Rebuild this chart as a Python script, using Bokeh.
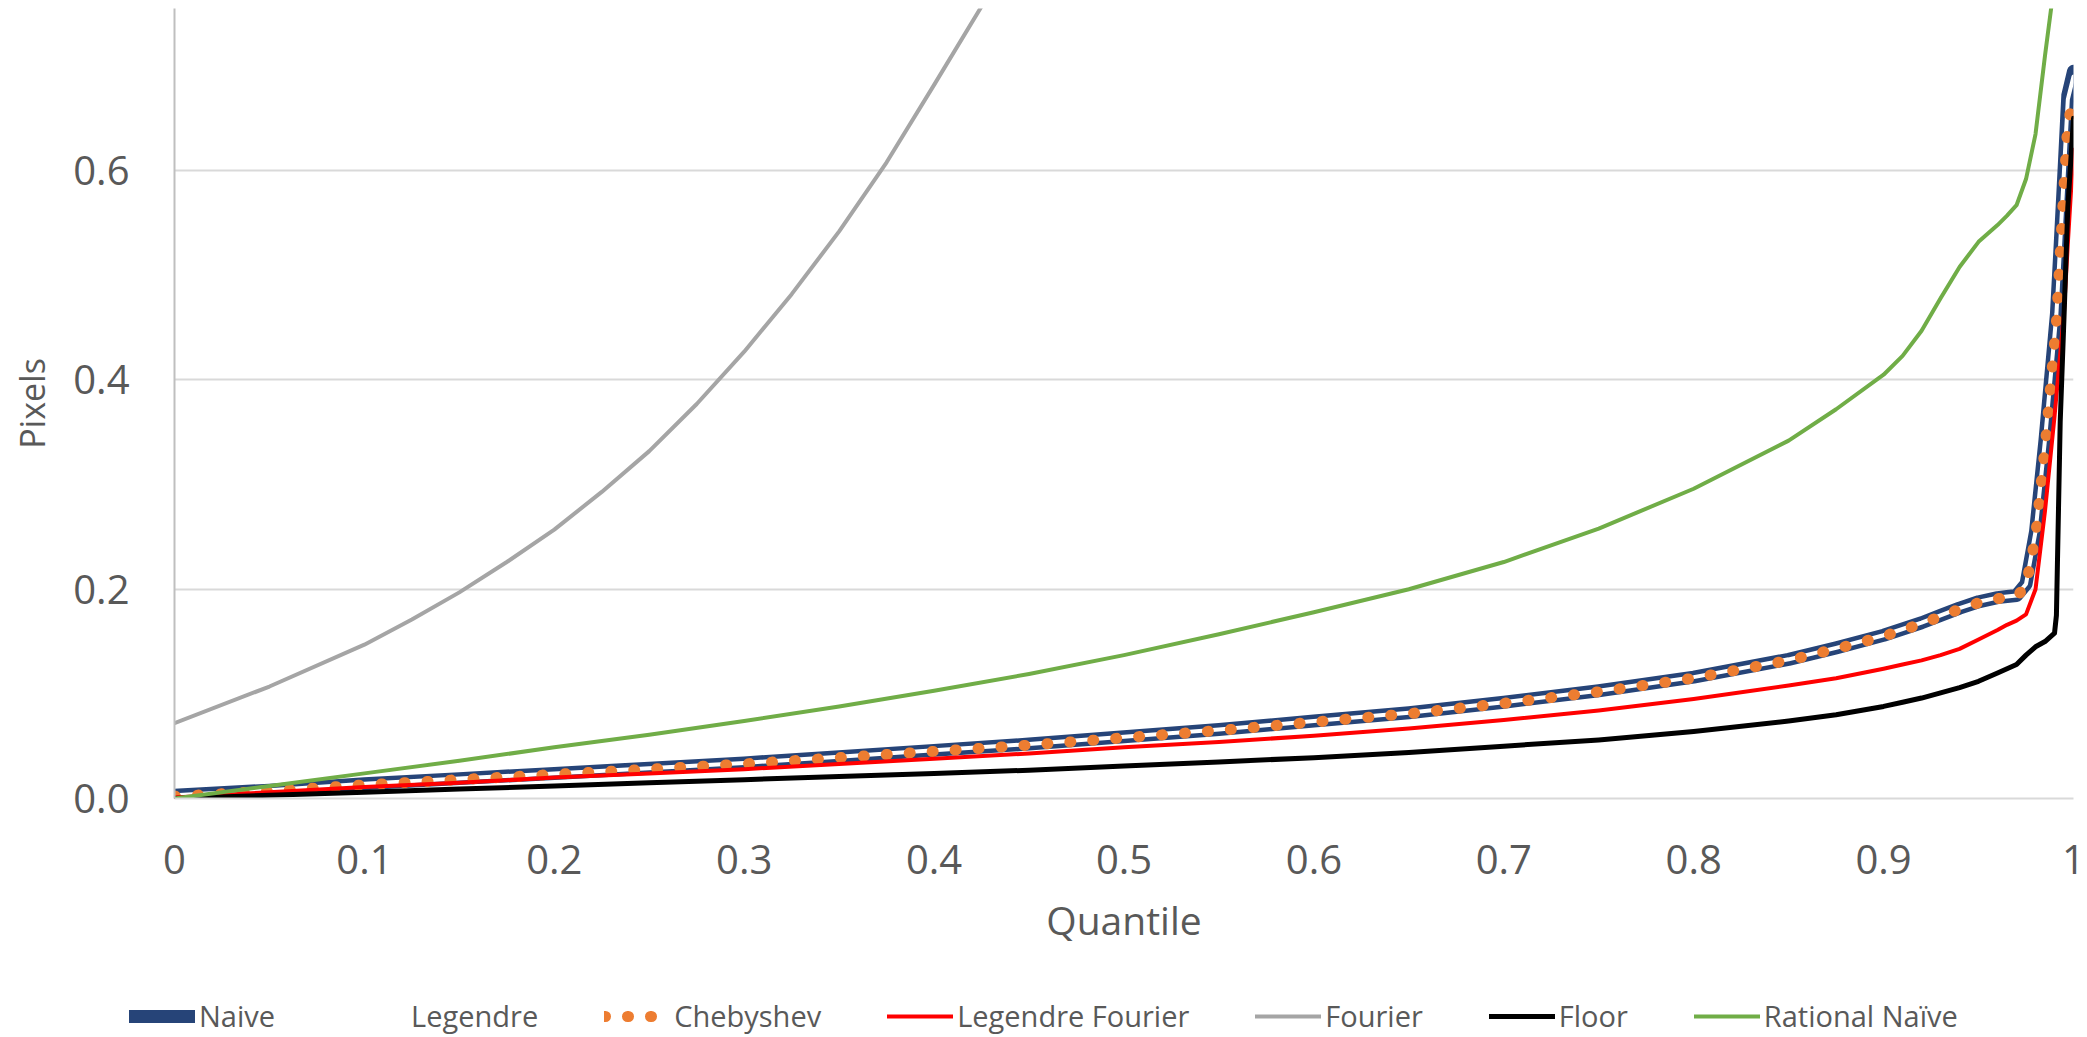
from bokeh.plotting import figure
from bokeh.models import Range1d, FixedTicker, Legend, LegendItem
from bokeh.layouts import column
from bokeh.embed import file_html
from bokeh.resources import INLINE

# ---- data ----
quantile = [0, .05, .1, .15, .2, .25, .3, .35, .4, .45, .5, .55, .6, .65, .7, .75, .8, .85,
            .875, .9, .91, .92, .93, .94, .95, .96, .965, .97, .975, .98, .985, .99, .991,
            .993, .995, .997, 1.0]

naive = [.003, .008, .014, .019, .024, .029, .034, .040, .046, .052, .059, .066, .074, .082,
         .092, .103, .116, .133, .144, .156, .162, .168, .175, .182, .188, .192, .193, .194,
         .205, .255, .343, .443, .463, .530, .600, .672, .695]

legendre = [.003, .008, .014, .019, .024, .029, .034, .040, .046, .052, .059, .066, .074, .082,
            .092, .103, .116, .133, .144, .156, .162, .168, .175, .182, .188, .192, .193, .194,
            .205, .255, .343, .443, .463, .530, .600, .668, .690]

chebyshev = [.002, .007, .013, .018, .023, .028, .033, .039, .045, .051, .058, .065, .073, .081,
             .091, .102, .115, .132, .143, .155, .161, .167, .174, .181, .187, .191, .192, .193,
             .203, .250, .335, .435, .455, .520, .585, .645, .668]

legendre_fourier = [.001, .006, .011, .015, .020, .024, .028, .033, .038, .043, .049, .054, .060,
                    .067, .075, .084, .095, .108, .115, .124, .128, .132, .137, .143, .152, .161,
                    .166, .170, .176, .200, .275, .365, .385, .425, .465, .530, .620]

floor_vals = [0, .003, .006, .009, .012, .015, .018, .021, .024, .027, .031, .035, .039, .044,
              .050, .056, .064, .074, .080, .088, .092, .096, .101, .106, .112, .120, .124, .128,
              .137, .145, .150, .158, .175, .360, .460, .565, .650]

rational_naive = [0, .012, .024, .036, .049, .061, .074, .088, .103, .119, .137, .157, .178, .200,
                  .226, .258, .296, .342, .372, .405, .423, .447, .478, .508, .532, .548, .557,
                  .567, .592, .635, .710, .780, .795, .830, .870, .910, .960]

fourier_q = [0, .05, .1, .125, .15, .175, .2, .225, .25, .275, .3, .325, .35, .375, .4, .425, .45]
fourier = [.072, .107, .147, .171, .197, .226, .257, .293, .332, .377, .427, .482, .542, .608,
           .682, .757, .840]

x_ticks = [0, .1, .2, .3, .4, .5, .6, .7, .8, .9, 1]
x_tick_labels = ["0", "0.1", "0.2", "0.3", "0.4", "0.5", "0.6", "0.7", "0.8", "0.9", "1"]
y_ticks = [0, .2, .4, .6]
y_tick_labels = ["0.0", "0.2", "0.4", "0.6"]

series_names = ["Naive", "Legendre", "Chebyshev", "Legendre Fourier", "Fourier", "Floor",
                "Rational Naïve"]

TEXT = "#595959"
FONT = "Open Sans"

styles = [
    dict(line_color="#264478", line_width=13),
    dict(line_color="white", line_width=4),
    dict(line_color="#ED7D31", line_width=11, line_dash="1 22"),
    dict(line_color="#FF0000", line_width=4),
    dict(line_color="#A5A5A5", line_width=4),
    dict(line_color="#000000", line_width=5),
    dict(line_color="#70AD47", line_width=4),
]

all_x = [quantile, quantile, quantile, quantile, fourier_q, quantile, quantile]
all_y = [naive, legendre, chebyshev, legendre_fourier, fourier, floor_vals, rational_naive]

p = figure(width=2087, height=981, output_backend="svg", toolbar_location=None,
           x_range=Range1d(0, 1), y_range=Range1d(0, 0.755),
           min_border_left=174, min_border_right=14, min_border_top=8, min_border_bottom=183)
p.frame_align = False
p.outline_line_color = None
p.xgrid.visible = False
p.ygrid.ticker = FixedTicker(ticks=[0.2, 0.4, 0.6])
p.ygrid.grid_line_color = "#D9D9D9"
p.ygrid.grid_line_width = 2

p.xaxis.ticker = FixedTicker(ticks=x_ticks)
p.xaxis.major_label_overrides = {t: l for t, l in zip(x_ticks, x_tick_labels)}
p.yaxis.ticker = FixedTicker(ticks=y_ticks)
p.yaxis.major_label_overrides = {t: l for t, l in zip(y_ticks, y_tick_labels)}
for ax in (p.xaxis[0], p.yaxis[0]):
    ax.major_tick_line_color = None
    ax.minor_tick_line_color = None
    ax.major_tick_out = 0
    ax.major_tick_in = 0
    ax.major_label_text_font = FONT
    ax.major_label_text_font_size = "40px"
    ax.major_label_text_color = TEXT
    ax.axis_label_text_font = FONT
    ax.axis_label_text_color = TEXT
    ax.axis_label_text_font_style = "normal"
p.xaxis.axis_line_color = "#D9D9D9"
p.xaxis.axis_line_width = 2
p.yaxis.axis_line_color = "#BFBFBF"
p.yaxis.axis_line_width = 2
p.xaxis.axis_label = "Quantile"
p.xaxis.axis_label_text_font_size = "39px"
p.xaxis.major_label_standoff = 46
p.xaxis.axis_label_standoff = 16
p.yaxis.axis_label = "Pixels"
p.yaxis.axis_label_text_font_size = "34px"
p.yaxis.major_label_standoff = 45
p.yaxis.axis_label_standoff = 15

for xs, ys, st in zip(all_x, all_y, styles):
    p.line(xs, ys, line_cap="round", line_join="round", **st)

# legend strip below the chart: same series, drawn outside this strip's visible range
lg = figure(width=2087, height=56, output_backend="svg", toolbar_location=None,
            x_range=Range1d(0, 1), y_range=Range1d(5, 6), x_axis_type=None, y_axis_type=None,
            min_border_left=0, min_border_right=0, min_border_top=0, min_border_bottom=0)
lg.frame_align = False
lg.outline_line_color = None
lg.grid.visible = False
items = []
for name, xs, ys, st in zip(series_names, all_x, all_y, styles):
    r = lg.line(xs, ys, line_cap="round", line_join="round", **st)
    items.append(LegendItem(label=name, renderers=[r]))
legend = Legend(items=items, orientation="horizontal", location=(129, 2))
legend.label_text_font = FONT
legend.label_text_font_size = "29px"
legend.label_text_color = TEXT
legend.glyph_width = 66
legend.label_standoff = 4
legend.spacing = 66
legend.padding = 0
legend.margin = 0
legend.border_line_color = None
legend.background_fill_alpha = 0
lg.add_layout(legend, "center")

layout = column(p, lg, spacing=0)
open("out.html", "w").write(file_html(layout, INLINE))
